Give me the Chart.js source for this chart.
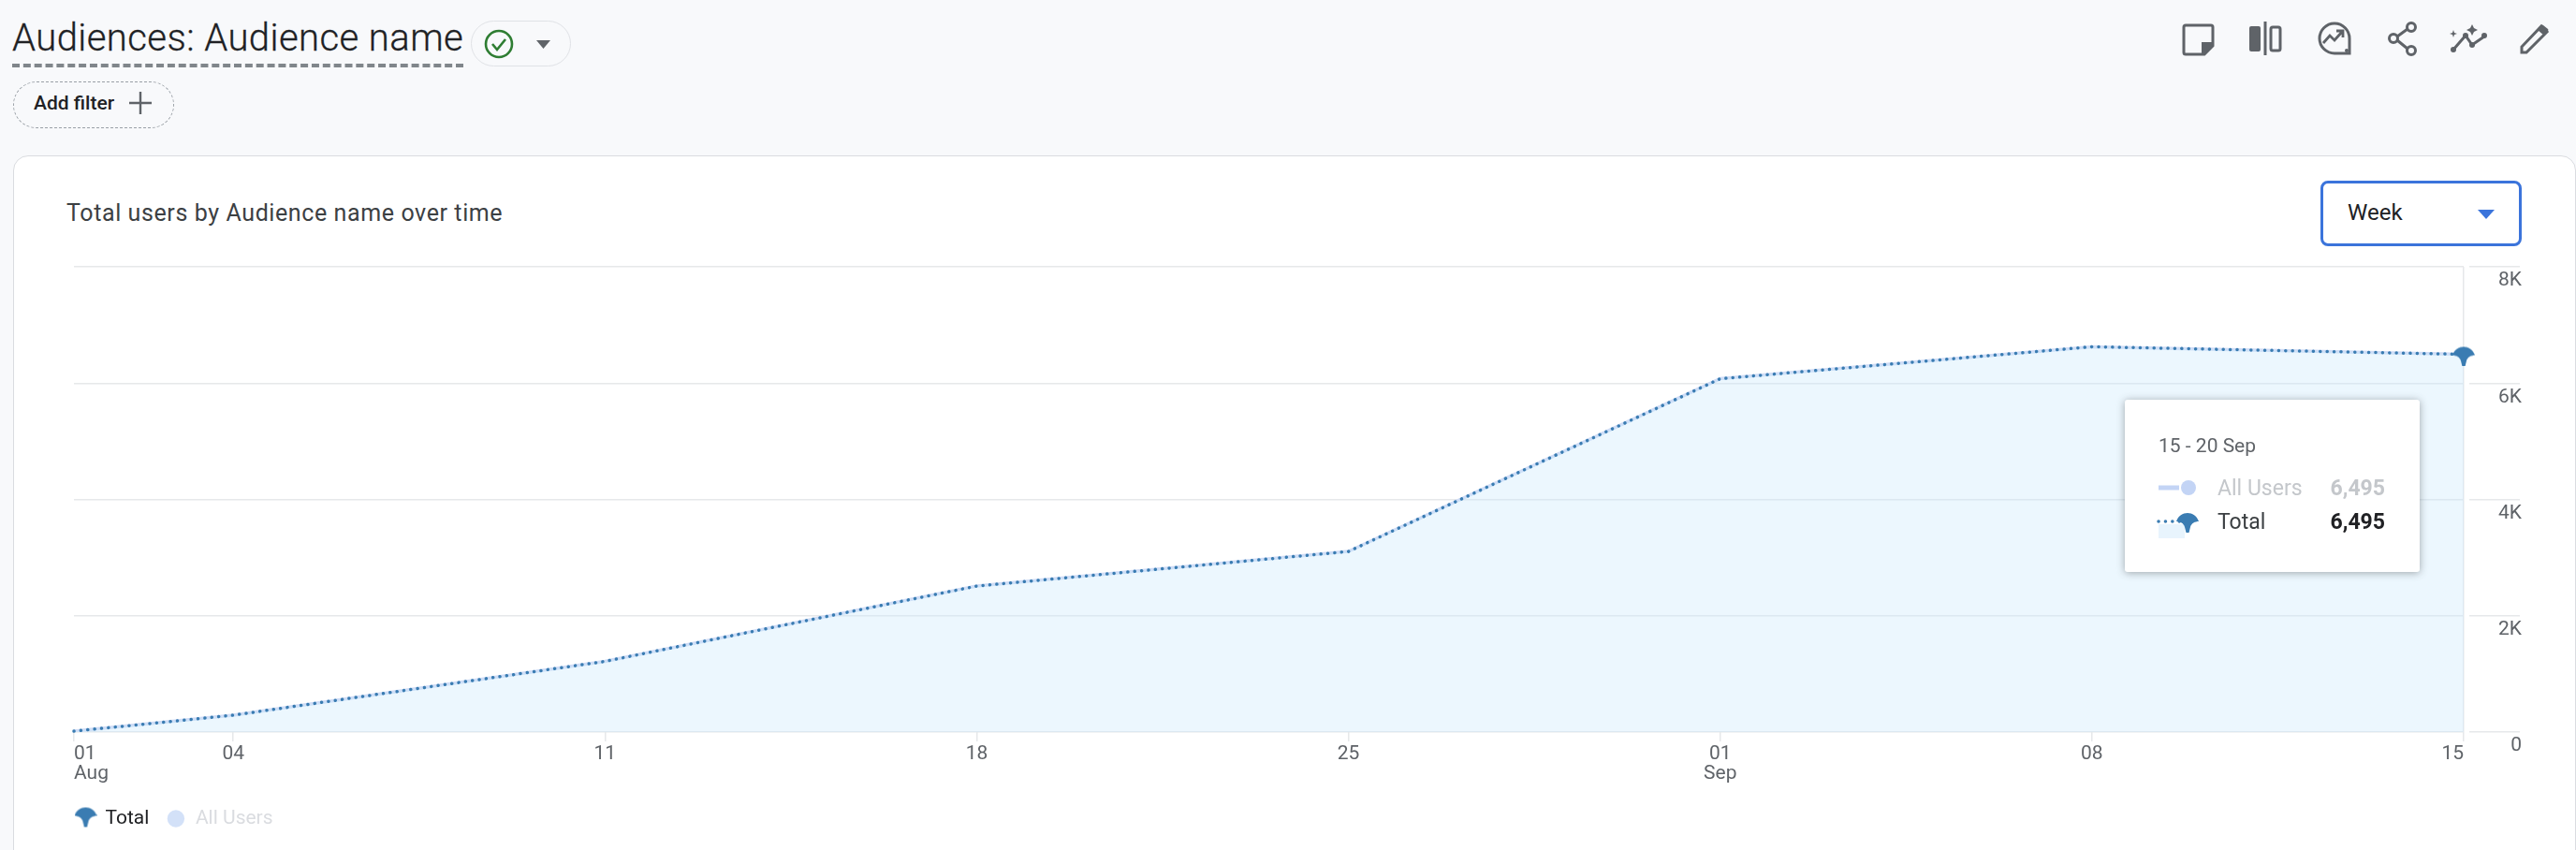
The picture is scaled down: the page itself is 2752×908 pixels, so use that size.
<!DOCTYPE html>
<html>
<head>
<meta charset="utf-8">
<title>Audiences: Audience name</title>
<script src="https://cdn.jsdelivr.net/npm/chart.js@4"></script>
<style>
  html, body { margin: 0; padding: 0; background: #f8f9fb; }
  body { width: 2752px; height: 908px; overflow: hidden; position: relative; font-family: Roboto, sans-serif; color: #202124; }
  .abs { position: absolute; }
  #pageTitle { left: 13px; top: 15px; height: 53px; line-height: 52px; font-size: 40px; font-weight: 300; letter-spacing: 0.44px; -webkit-text-stroke: 0.3px #202124; white-space: nowrap; border-bottom: 4px dashed #80868b; }
  #statusChip { left: 503px; top: 22px; width: 105px; height: 47px; border: 1.5px solid #e0e2e6; border-radius: 25px; }
  #addFilter { left: 14px; top: 87px; width: 170px; height: 48px; border: 1.5px dashed #9aa0a6; border-radius: 25px; }
  #addFilterText { left: 36px; top: 96px; line-height: 28px; font-size: 21px; font-weight: 500; }
  #card { left: 14px; top: 166px; width: 2736px; height: 800px; background: #fff; border: 1.5px solid #dadce0; border-radius: 16px; }
  #cardTitle { left: 71px; top: 212px; line-height: 32px; font-size: 25px; letter-spacing: 0.6px; color: #3c4043; white-space: nowrap; }
  #weekBox { left: 2479px; top: 193px; width: 209px; height: 64px; border: 3px solid #3b74db; border-radius: 8px; background: #fff; }
  #weekText { left: 2508px; top: 211px; line-height: 32px; font-size: 24px; }
  #chart { position: absolute; left: 0; top: 0; width: 2752px; height: 908px; }
  #tip { left: 2270px; top: 427px; width: 315px; height: 184px; background: #fff; border-radius: 3px; box-shadow: 0 1px 8px rgba(60,64,67,.45); z-index: 2; }
  #tip div { position: absolute; white-space: nowrap; font-size: 23px; line-height: 28px; }
  #tip div#tipDate { font-size: 21px; }
  #tip svg { position: absolute; left: 0; top: 0; }
</style>
</head>
<body>
<div class="abs" id="card"></div>
<div class="abs" id="pageTitle">Audiences: Audience name</div>
<div class="abs" id="statusChip"></div>
<svg class="abs" style="left:515px;top:28px" width="80" height="38" viewBox="0 0 80 38">
  <circle cx="18" cy="19" r="14" fill="none" stroke="#2e7d32" stroke-width="2.6"/>
  <path d="M11 19l5 6 9-11" fill="none" stroke="#2e7d32" stroke-width="2.6"/>
  <path d="M58 15h15l-7.500 9z" fill="#5f6368"/>
</svg>
<div class="abs" id="addFilter"></div>
<div class="abs" id="addFilterText">Add filter</div>
<svg class="abs" style="left:137px;top:97px" width="26" height="26" viewBox="0 0 26 26">
  <path d="M13 1v24M1 13h24" stroke="#5f6368" stroke-width="2.400" fill="none"/>
</svg>

<svg class="abs" style="left:2330px;top:23px" width="400" height="38" viewBox="0 0 400 38" fill="none" stroke="#5f6368" stroke-width="3">
  <!-- note -->
  <path d="M5 4h27a2 2 0 0 1 2 2v20l-9 9H5a2 2 0 0 1-2-2V6a2 2 0 0 1 2-2z"/>
  <path d="M34 22v4l-9 9h-3V22z" fill="#5f6368" stroke="none"/>
  <!-- split -->
  <rect x="73" y="5" width="12" height="27" rx="2" fill="#5f6368" stroke="none"/>
  <path d="M90 0v36"/>
  <rect x="96" y="6" width="10" height="25" rx="2"/>
  <!-- insights -->
  <path d="M180 34h-16a16 16 0 1 1 16-16z"/>
  <path d="M152 23l7-8 5 5 8-9M166 10h7v7" stroke-width="2.800"/>
  <circle cx="177" cy="31" r="2" fill="#5f6368" stroke="none"/>
  <!-- share -->
  <circle cx="227" cy="18" r="4.500"/><circle cx="246" cy="6" r="4.500"/><circle cx="246" cy="31" r="4.500"/>
  <path d="M231 16l11-8M231 20l11 9"/>
  <!-- sparkle trend -->
  <path d="M291 30l13-15 7 10 13-9" stroke-width="3"/>
  <circle cx="291" cy="30" r="3" fill="#5f6368" stroke="none"/><circle cx="304" cy="15" r="3" fill="#5f6368" stroke="none"/>
  <circle cx="311" cy="25" r="3" fill="#5f6368" stroke="none"/><circle cx="324" cy="15" r="3" fill="#5f6368" stroke="none"/>
  <path d="M311 3l2 4 4 2-4 2-2 4-2-4-4-2 4-2zM291 9l1 3 3 1-3 1-1 3-1-3-3-1 3-1z" fill="#5f6368" stroke="none"/>
  <!-- pencil -->
  <path d="M364 33v-6L385 5l6 6-22 22z" stroke-width="3"/>
  <path d="M381 9l4-5a1.500 1.500 0 0 1 2 0l5 4a1.500 1.500 0 0 1 0 2l-4 5z" fill="#5f6368" stroke="none"/>
</svg>

<div class="abs" id="cardTitle">Total users by Audience name over time</div>
<div class="abs" id="weekBox"></div>
<div class="abs" id="weekText">Week</div>
<svg class="abs" style="left:2647px;top:224px" width="18" height="10" viewBox="0 0 18 10"><path d="M0 0h18L9 10z" fill="#3b74db"/></svg>

<canvas id="chart" width="2752" height="908"></canvas>

<div class="abs" id="tip">
  <svg width="315" height="184" viewBox="0 0 315 184" fill="none">
    <path d="M36 94h22" stroke="#c3d4f5" stroke-width="5"/>
    <circle cx="68" cy="94" r="8" fill="#c3d4f5"/>
    <rect x="36" y="133" width="28" height="15" fill="#e8f4fd"/>
    <path d="M36 130h24" stroke="#3a7cb2" stroke-width="3.500" stroke-dasharray="0.100 7.300" stroke-linecap="round"/>
    <path transform="translate(55,120)" fill="#3a7cb2" d="M0 10C2 4 7 1 12 1C17 1 22 4 24 10C20 10 16 12 15 16L13.500 22L10.500 22L9 16C8 12 4 10 0 10Z"/>
  </svg>
  <div id="tipDate" style="left:36px;top:35px;color:#5f6368"></div>
  <div id="tipName1" style="left:99px;top:81px;color:#c4c7cb"></div>
  <div id="tipVal1" style="right:37px;top:81px;color:#c4c7cb;font-weight:700"></div>
  <div id="tipName2" style="left:99px;top:117px;color:#3c4043"></div>
  <div id="tipVal2" style="right:37px;top:117px;color:#202124;font-weight:700"></div>
</div>

<script>
// days since 01 Aug, one per weekly point
var dayOffsets = [0, 3, 10, 17, 24, 31, 38, 45];
var xTickLabels = [['01', 'Aug'], ['04'], ['11'], ['18'], ['25'], ['01', 'Sep'], ['08'], ['15']];
var yTickLabels = ['0', '2K', '4K', '6K', '8K'];
var totalUsers = [15, 290, 1215, 2510, 3105, 6075, 6625, 6495];
var allUsers = [15, 290, 1215, 2510, 3105, 6075, 6625, 6495];
var seriesNames = ['Total', 'All Users'];
var tooltipDate = '15 - 20 Sep';

var fanPath = 'M0 10C2 4 7 1 12 1C17 1 22 4 24 10C20 10 16 12 15 16L13.5 22L10.5 22L9 16C8 12 4 10 0 10Z';

function fanCanvas(padTop, padBottom) {
  var c = document.createElement('canvas');
  c.width = 24;
  c.height = 22 + padTop + padBottom;
  var g = c.getContext('2d');
  g.translate(0, padTop);
  g.fillStyle = '#3a7cb2';
  g.fill(new Path2D(fanPath));
  return c;
}
var pointFan = fanCanvas(4, 0);
var legendFan = fanCanvas(0, 4);

function toPoints(values) {
  return values.map(function (v, i) { return { x: dayOffsets[i], y: v }; });
}

// legend sits where the reference has it, not where the layout puts it
var legendPlace = {
  id: 'legendPlace',
  afterLayout: function (chart) {
    chart.legend.left = 81 - 18;
    chart.legend.top = 846;
  }
};

var ctx = document.getElementById('chart').getContext('2d');
var myChart = new Chart(ctx, {
  type: 'line',
  plugins: [legendPlace],
  data: {
    datasets: [
      {
        label: seriesNames[0],
        data: toPoints(totalUsers),
        order: 0,
        clip: false,
        borderColor: '#3a7cb2',
        borderWidth: 3.5,
        borderDash: [0.1, 7.3],
        borderCapStyle: 'round',
        backgroundColor: 'rgba(204,232,252,0.37)',
        fill: 'origin',
        tension: 0,
        pointStyle: function (c) { return c.dataIndex === totalUsers.length - 1 ? pointFan : false; },
        pointRadius: function (c) { return c.dataIndex === totalUsers.length - 1 ? 10 : 0; }
      },
      {
        label: seriesNames[1],
        data: toPoints(allUsers),
        order: 1,
        borderColor: '#cfdcf6',
        borderWidth: 3.5,
        fill: false,
        tension: 0,
        pointRadius: 0
      }
    ]
  },
  options: {
    responsive: false,
    animation: false,
    events: [],
    layout: { padding: { left: 79, top: 285, right: 52, bottom: 16 } },
    plugins: {
      tooltip: { enabled: false },
      legend: {
        position: 'bottom',
        align: 'start',
        labels: {
          usePointStyle: true,
          boxWidth: 21,
          boxHeight: 13,
          padding: 18,
          font: { family: 'Roboto', size: 21, lineHeight: '24px' },
          generateLabels: function () {
            return [
              { text: seriesNames[0], fontColor: '#202124', pointStyle: legendFan, fillStyle: '#3a7cb2', strokeStyle: '#3a7cb2', lineWidth: 0, datasetIndex: 0 },
              { text: seriesNames[1], fontColor: '#dadce0', pointStyle: 'circle', fillStyle: '#d3e1f8', strokeStyle: '#d3e1f8', lineWidth: 0, datasetIndex: 1 }
            ];
          }
        }
      }
    },
    scales: {
      x: {
        type: 'linear',
        min: 0,
        max: 45,
        afterBuildTicks: function (scale) {
          scale.ticks = dayOffsets.map(function (d) { return { value: d }; });
        },
        afterFit: function (scale) { scale.height = 61; },
        border: { display: false },
        grid: {
          // only the closing edge of the plot is drawn as a vertical line
          color: function (c) { return c.index === dayOffsets.length - 1 ? '#e6e8ea' : 'transparent'; },
          lineWidth: 1.5,
          tickColor: '#e6e8ea',
          tickLength: 10
        },
        ticks: {
          autoSkip: false,
          maxRotation: 0,
          align: 'inner',
          padding: 3,
          color: '#5f6368',
          font: { family: 'Roboto', size: 21, lineHeight: '21px' },
          callback: function (value, index) { return xTickLabels[index]; }
        }
      },
      y: {
        position: 'right',
        min: 0,
        max: 8000,
        afterFit: function (scale) { scale.width = 68; },
        border: { display: false },
        grid: {
          color: '#e6e8ea',
          lineWidth: 1.5,
          tickColor: '#e6e8ea',
          tickLength: 60,
          tickBorderDash: [0, 6, 54, 0]
        },
        ticks: {
          stepSize: 2000,
          mirror: true,
          padding: 62,
          color: '#5f6368',
          font: { family: 'Roboto', size: 21, lineHeight: '30px' },
          // blank first line drops the label under its grid line
          callback: function (value, index) { return ['', yTickLabels[index]]; }
        }
      }
    }
  }
});

var lastTotal = totalUsers[totalUsers.length - 1].toLocaleString('en-US');
var lastAll = allUsers[allUsers.length - 1].toLocaleString('en-US');
document.getElementById('tipDate').textContent = tooltipDate;
document.getElementById('tipName1').textContent = seriesNames[1];
document.getElementById('tipVal1').textContent = lastAll;
document.getElementById('tipName2').textContent = seriesNames[0];
document.getElementById('tipVal2').textContent = lastTotal;
</script>
</body>
</html>
